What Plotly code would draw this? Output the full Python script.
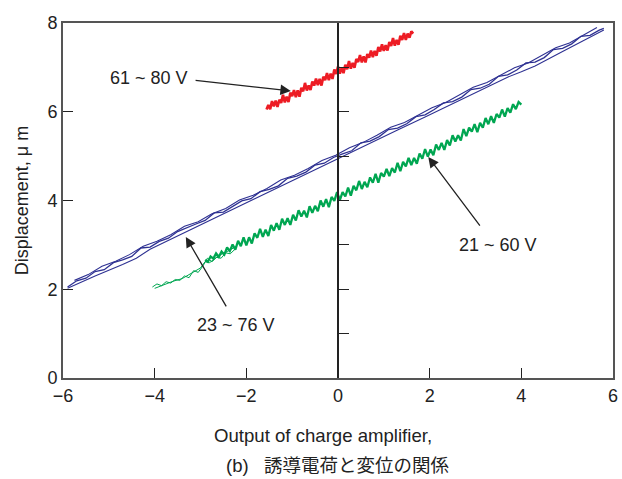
import plotly.graph_objects as go

# ---- measured traces -------------------------------------------------------
# 61 ~ 80 V sweep (red)
red_x = [-1.56, -1.52, -1.48, -1.44, -1.40, -1.36, -1.32, -1.28, -1.24, -1.20,
         -1.16, -1.12, -1.08, -1.04, -1.00, -0.96, -0.92, -0.88, -0.84, -0.80,
         -0.76, -0.72, -0.68, -0.64, -0.60, -0.56, -0.52, -0.48, -0.44, -0.40,
         -0.36, -0.32, -0.28, -0.24, -0.20, -0.16, -0.12, -0.08, -0.04, 0.00,
         0.04, 0.08, 0.12, 0.16, 0.20, 0.24, 0.28, 0.32, 0.36, 0.40,
         0.44, 0.48, 0.52, 0.56, 0.60, 0.64, 0.68, 0.72, 0.76, 0.80,
         0.84, 0.88, 0.92, 0.96, 1.00, 1.04, 1.08, 1.12, 1.16, 1.20,
         1.24, 1.28, 1.32, 1.36, 1.40, 1.44, 1.48, 1.52, 1.56, 1.60, 1.64]
red_y = [6.05, 6.15, 6.06, 6.24, 6.12, 6.25, 6.11, 6.27, 6.20, 6.38,
         6.21, 6.34, 6.22, 6.43, 6.35, 6.49, 6.33, 6.48, 6.34, 6.54,
         6.46, 6.65, 6.48, 6.59, 6.49, 6.68, 6.59, 6.75, 6.60, 6.74,
         6.59, 6.79, 6.71, 6.87, 6.71, 6.86, 6.74, 6.95, 6.85, 7.02,
         6.86, 6.99, 6.87, 7.06, 6.96, 7.14, 6.97, 7.10, 6.99, 7.19,
         7.12, 7.28, 7.11, 7.25, 7.11, 7.30, 7.22, 7.38, 7.23, 7.37,
         7.26, 7.46, 7.36, 7.52, 7.37, 7.50, 7.38, 7.57, 7.48, 7.66,
         7.49, 7.62, 7.51, 7.71, 7.62, 7.77, 7.62, 7.76, 7.67, 7.81, 7.76]

# 23 ~ 76 V sweep (blue), three passes
blue1_x = [-5.90, -5.70, -5.50, -5.30, -5.10, -4.90, -4.70, -4.50, -4.30, -4.10,
           -3.90, -3.70, -3.50, -3.30, -3.10, -2.90, -2.70, -2.50, -2.30, -2.10,
           -1.90, -1.70, -1.50, -1.30, -1.10, -0.90, -0.70, -0.50, -0.30, -0.10,
           0.10, 0.30, 0.50, 0.70, 0.90, 1.10, 1.30, 1.50, 1.70, 1.90,
           2.10, 2.30, 2.50, 2.70, 2.90, 3.10, 3.30, 3.50, 3.70, 3.90,
           4.10, 4.30, 4.50, 4.70, 4.90, 5.10, 5.30, 5.50, 5.70, 5.80]
blue1_y = [2.05, 2.19, 2.25, 2.40, 2.44, 2.60, 2.66, 2.74, 2.93, 2.95,
           3.08, 3.15, 3.30, 3.39, 3.47, 3.55, 3.72, 3.74, 3.86, 3.99,
           4.04, 4.20, 4.25, 4.33, 4.50, 4.55, 4.64, 4.80, 4.84, 4.97,
           5.05, 5.12, 5.30, 5.34, 5.44, 5.60, 5.63, 5.73, 5.89, 5.93,
           6.05, 6.20, 6.23, 6.33, 6.50, 6.53, 6.62, 6.80, 6.83, 6.94,
           7.10, 7.12, 7.22, 7.40, 7.43, 7.53, 7.70, 7.72, 7.84, 7.88]
blue2_x = [-5.75, -5.45, -5.15, -4.85, -4.55, -4.25, -3.95, -3.65, -3.35, -3.05,
           -2.75, -2.45, -2.15, -1.85, -1.55, -1.25, -0.95, -0.65, -0.35, -0.05,
           0.25, 0.55, 0.85, 1.15, 1.45, 1.75, 2.05, 2.35, 2.65, 2.95,
           3.25, 3.55, 3.85, 4.15, 4.45, 4.75, 5.05, 5.35, 5.65]
blue2_y = [2.20, 2.33, 2.52, 2.63, 2.78, 2.97, 3.08, 3.23, 3.42, 3.52,
           3.70, 3.82, 4.01, 4.12, 4.27, 4.46, 4.57, 4.72, 4.90, 5.02,
           5.19, 5.31, 5.47, 5.65, 5.76, 5.93, 6.09, 6.21, 6.38, 6.55,
           6.66, 6.82, 6.99, 7.10, 7.27, 7.44, 7.55, 7.72, 7.90]
blue3_x = [-5.90, -5.30, -4.70, -4.40, -4.10, -3.50, -2.90, -2.30, -1.70, -1.10,
           -0.50, 0.10, 0.70, 1.30, 1.90, 2.50, 3.10, 3.70, 4.00, 4.30,
           4.90, 5.50, 5.80]
blue3_y = [2.02, 2.30, 2.56, 2.70, 2.90, 3.20, 3.49, 3.80, 4.10, 4.39,
           4.69, 4.99, 5.29, 5.59, 5.88, 6.18, 6.48, 6.78, 6.90, 7.03,
           7.36, 7.67, 7.84]

# 21 ~ 60 V sweep (green): two thin low-end passes and the main pass
green1_x = [-4.05, -3.95, -3.85, -3.75, -3.65, -3.55, -3.45, -3.35, -3.25, -3.15,
            -3.05, -2.95, -2.85, -2.75, -2.65, -2.55, -2.45, -2.35, -2.25]
green1_y = [2.05, 2.12, 2.08, 2.17, 2.14, 2.22, 2.20, 2.30, 2.26, 2.42,
            2.38, 2.52, 2.70, 2.62, 2.72, 2.70, 2.82, 2.80, 2.90]
green2_x = [-4.00, -3.80, -3.60, -3.40, -3.20, -3.00, -2.90, -2.80, -2.60, -2.40, -2.20]
green2_y = [2.02, 2.10, 2.18, 2.24, 2.36, 2.48, 2.62, 2.60, 2.76, 2.86, 2.98]
green3_x = [-2.90, -2.84, -2.78, -2.72, -2.66, -2.60, -2.54, -2.48, -2.42, -2.36,
            -2.30, -2.24, -2.18, -2.12, -2.06, -2.00, -1.94, -1.88, -1.82, -1.76,
            -1.70, -1.64, -1.58, -1.52, -1.46, -1.40, -1.34, -1.28, -1.22, -1.16,
            -1.10, -1.04, -0.98, -0.92, -0.86, -0.80, -0.74, -0.68, -0.62, -0.56,
            -0.50, -0.44, -0.38, -0.32, -0.26, -0.20, -0.14, -0.08, -0.02, 0.04,
            0.10, 0.16, 0.22, 0.28, 0.34, 0.40, 0.46, 0.52, 0.58, 0.64,
            0.70, 0.76, 0.82, 0.88, 0.94, 1.00, 1.06, 1.12, 1.18, 1.24,
            1.30, 1.36, 1.42, 1.48, 1.54, 1.60, 1.66, 1.72, 1.78, 1.84,
            1.90, 1.96, 2.02, 2.08, 2.14, 2.20, 2.26, 2.32, 2.38, 2.44,
            2.50, 2.56, 2.62, 2.68, 2.74, 2.80, 2.86, 2.92, 2.98, 3.04,
            3.10, 3.16, 3.22, 3.28, 3.34, 3.40, 3.46, 3.52, 3.58, 3.64,
            3.70, 3.76, 3.82, 3.88, 3.94, 4.00]
green3_y = [2.66, 2.62, 2.74, 2.69, 2.81, 2.73, 2.85, 2.78, 2.94, 2.86,
            3.01, 2.89, 3.09, 2.97, 3.17, 2.99, 3.17, 3.03, 3.26, 3.16,
            3.36, 3.18, 3.34, 3.20, 3.45, 3.32, 3.49, 3.34, 3.59, 3.45,
            3.60, 3.45, 3.68, 3.55, 3.78, 3.64, 3.77, 3.62, 3.87, 3.72,
            3.88, 3.76, 4.00, 3.86, 4.03, 3.85, 4.08, 3.99, 4.19, 4.01,
            4.19, 4.09, 4.29, 4.11, 4.33, 4.23, 4.44, 4.26, 4.42, 4.30,
            4.52, 4.40, 4.60, 4.40, 4.62, 4.54, 4.71, 4.55, 4.73, 4.63,
            4.85, 4.66, 4.87, 4.77, 4.96, 4.80, 4.96, 4.83, 5.06, 4.94,
            5.16, 4.99, 5.15, 5.02, 5.26, 5.14, 5.30, 5.14, 5.36, 5.24,
            5.47, 5.33, 5.47, 5.35, 5.61, 5.45, 5.64, 5.55, 5.72, 5.54,
            5.75, 5.64, 5.86, 5.72, 5.90, 5.75, 5.95, 5.87, 6.05, 5.89,
            6.08, 5.98, 6.17, 6.06, 6.22, 6.16]

# ---- axis ticks ---------------------------------------------------------------
x_ticks = [-6, -4, -2, 0, 2, 4, 6]
y_ticks = [0, 2, 4, 6, 8]
center_ticks = [1, 2, 3, 4, 5, 6, 7]

RED = "#ED1C24"
BLUE = "#2E3192"
GREEN = "#00A651"
INK = "#222222"
FRAME = "#555555"
FONT = "Liberation Sans, Arial, sans-serif"
CAPTION_FONT = "Liberation Sans, Noto Sans CJK JP, sans-serif"

fig = go.Figure()


def add_line(x, y, color, width):
    fig.add_trace(go.Scatter(x=x, y=y, mode="lines",
                             line=dict(color=color, width=width),
                             hoverinfo="skip", showlegend=False))


add_line(blue3_x, blue3_y, BLUE, 1.1)
add_line(blue2_x, blue2_y, BLUE, 1.1)
add_line(blue1_x, blue1_y, BLUE, 1.3)
add_line(green1_x, green1_y, GREEN, 1.0)
add_line(green2_x, green2_y, GREEN, 1.0)
add_line(green3_x, green3_y, GREEN, 2.3)
add_line(red_x, red_y, RED, 2.6)

# invisible trace that carries the centre (x = 0) axis
fig.add_trace(go.Scatter(x=[0], y=[0], yaxis="y2", mode="markers",
                         marker=dict(opacity=0), hoverinfo="skip",
                         showlegend=False))

tick_font = dict(family=FONT, size=18, color=INK)

fig.update_layout(
    width=622, height=479,
    margin=dict(l=63, r=9, t=23, b=101),
    paper_bgcolor="white", plot_bgcolor="white",
    xaxis=dict(range=[-6, 6], tickvals=x_ticks, ticks="inside", ticklen=10,
               tickwidth=1.3, tickcolor=INK, showline=True, linewidth=2,
               linecolor=FRAME, mirror=True, showgrid=False, zeroline=False,
               tickfont=tick_font, automargin=False),
    yaxis=dict(range=[0, 8], tickvals=y_ticks, ticks="inside", ticklen=10,
               tickwidth=1.3, tickcolor=INK, showline=True, linewidth=2,
               linecolor=FRAME, mirror=True, showgrid=False, zeroline=False,
               tickfont=tick_font, automargin=False,
               title=dict(text="Displacement, \u03bc m",
                          font=dict(family=FONT, size=18, color=INK),
                          standoff=14)),
    yaxis2=dict(range=[0, 8], overlaying="y", anchor="free", position=0.5,
                side="left", tickvals=center_ticks, ticks="inside", ticklen=10,
                tickwidth=1.3, tickcolor=INK, showline=True, linewidth=1.5,
                linecolor=INK, showticklabels=False, showgrid=False,
                zeroline=False, automargin=False),
)

# arrows pointing at the three sweeps
arrows = [
    # (tip x, tip y, tail x, tail y)
    (-1.03, 6.47, -3.14, 6.71),
    (-3.32, 3.18, -2.42, 1.58),
    (1.97, 4.98, 3.12, 3.40),
]
for tx, ty, sx, sy in arrows:
    fig.add_annotation(x=tx, y=ty, ax=sx, ay=sy, xref="x", yref="y",
                       axref="x", ayref="y", text="", showarrow=True,
                       arrowhead=2, arrowsize=1.6, arrowwidth=1.3,
                       arrowcolor=INK)

label_font = dict(family=FONT, size=18, color=INK)
fig.add_annotation(x=-3.23, y=6.76, text="61 ~ 80 V", showarrow=False,
                   xanchor="right", yanchor="middle", font=label_font)
fig.add_annotation(x=-2.23, y=1.19, text="23 ~ 76 V", showarrow=False,
                   xanchor="center", yanchor="middle", font=label_font)
fig.add_annotation(x=3.49, y=3.00, text="21 ~ 60 V", showarrow=False,
                   xanchor="center", yanchor="middle", font=label_font)

# x-axis caption and figure caption
fig.add_annotation(x=0.473, y=0, xref="paper", yref="paper", yshift=-57,
                   text="Output of charge amplifier,", showarrow=False,
                   xanchor="center", yanchor="middle",
                   font=dict(family=FONT, size=18.6, color=INK))
fig.add_annotation(x=0.5, y=0, xref="paper", yref="paper", yshift=-87,
                   text="(b)\u00a0\u00a0\u00a0誘導電荷と変位の関係",
                   showarrow=False, xanchor="center", yanchor="middle",
                   font=dict(family=CAPTION_FONT, size=18.5, color=INK))

fig.write_html("out.html")
